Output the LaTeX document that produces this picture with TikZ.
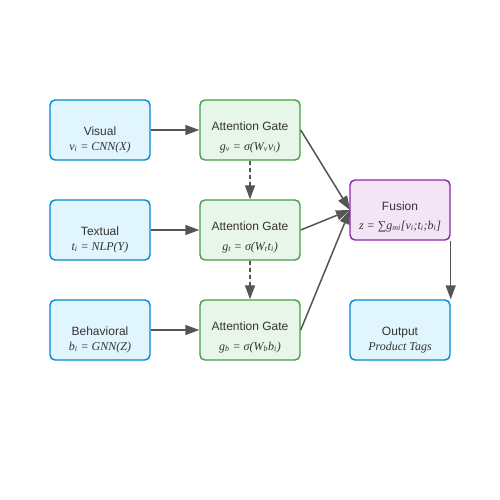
\documentclass[tikz,border=0pt]{standalone}
\usepackage{fontspec}
\setmainfont{Liberation Sans}
\newfontfamily\fserif{Liberation Serif}
\usetikzlibrary{arrows.meta}
\definecolor{bluefill}{HTML}{E1F5FE}
\definecolor{blueline}{HTML}{0288D1}
\definecolor{greenfill}{HTML}{E8F5E9}
\definecolor{greenline}{HTML}{43A047}
\definecolor{purplefill}{HTML}{F3E5F5}
\definecolor{purpleline}{HTML}{8E24AA}
\definecolor{arrowgray}{HTML}{555555}
\definecolor{textgray}{HTML}{333333}
\newcommand{\sbs}[1]{\textsubscript{#1}}
\begin{document}
\begin{tikzpicture}[x=1pt,y=-1pt,
  box/.style={draw, line width=1.4pt, rounded corners=5pt, minimum width=100pt, minimum height=60pt, inner sep=0pt},
  inbox/.style={box, fill=bluefill, draw=blueline},
  gatebox/.style={box, fill=greenfill, draw=greenline},
  fusebox/.style={box, fill=purplefill, draw=purpleline},
  lab/.style={font=\fontsize{12}{14}\selectfont, text=textgray, inner sep=0pt, anchor=base},
  frm/.style={font=\fserif\itshape\fontsize{12}{14}\selectfont, text=textgray, inner sep=0pt, anchor=base},
  arr/.style={draw=arrowgray, line width=1.5pt, -{Triangle[length=14pt,width=10pt]}, fill=arrowgray},
  darr/.style={arr, dash pattern=on 4pt off 3pt}
]
\useasboundingbox (0,0) rectangle (500,500);
\fill[white] (0,0) rectangle (500,500);

\node[inbox] (vis) at (100,130) {};
\node[inbox] (txt) at (100,230) {};
\node[inbox] (beh) at (100,330) {};
\node[gatebox] (g1) at (250,130) {};
\node[gatebox] (g2) at (250,230) {};
\node[gatebox] (g3) at (250,330) {};
\node[fusebox] (fus) at (400,210) {};
\node[inbox] (out) at (400,330) {};

\node[lab] (visl) at (100,135.5) {Visual};
\node[frm] (visf) at (100,150) {v\sbs{i} = CNN(X)};
\node[lab] (txtl) at (100,235.5) {Textual};
\node[frm] (txtf) at (100,250) {t\sbs{i} = NLP(Y)};
\node[lab] (behl) at (100,335.5) {Behavioral};
\node[frm] (behf) at (100,350) {b\sbs{i} = GNN(Z)};

\node[lab] (g1l) at (250,130.5) {Attention Gate};
\node[frm] (g1f) at (250,150) {g\sbs{v} = σ(W\sbs{v}v\sbs{i})};
\node[lab] (g2l) at (250,230.5) {Attention Gate};
\node[frm] (g2f) at (250,250) {g\sbs{t} = σ(W\sbs{t}t\sbs{i})};
\node[lab] (g3l) at (250,330.5) {Attention Gate};
\node[frm] (g3f) at (250,350) {g\sbs{b} = σ(W\sbs{b}b\sbs{i})};

\node[lab] (fusl) at (400,210.5) {Fusion};
\node[frm] (fusf) at (400,229) {z = ∑g\sbs{mi}[v\sbs{i};t\sbs{i};b\sbs{i}]};
\node[lab] (outl) at (400,335.5) {Output};
\node[frm] (outf) at (400,350) {Product Tags};

\coordinate (fin) at (350,210);
\draw[arr] (vis.east) -- (g1.west);
\draw[arr] (txt.east) -- (g2.west);
\draw[arr] (beh.east) -- (g3.west);
\draw[darr] (g1.south) -- (g2.north);
\draw[darr] (g2.south) -- (g3.north);
\draw[arr] (g1.east) -- (fin);
\draw[arr] (g2.east) -- (fin);
\draw[arr] (g3.east) -- (fin);
\draw[arr] (fus.south east) -- (out.north east);
\end{tikzpicture}
\end{document}
